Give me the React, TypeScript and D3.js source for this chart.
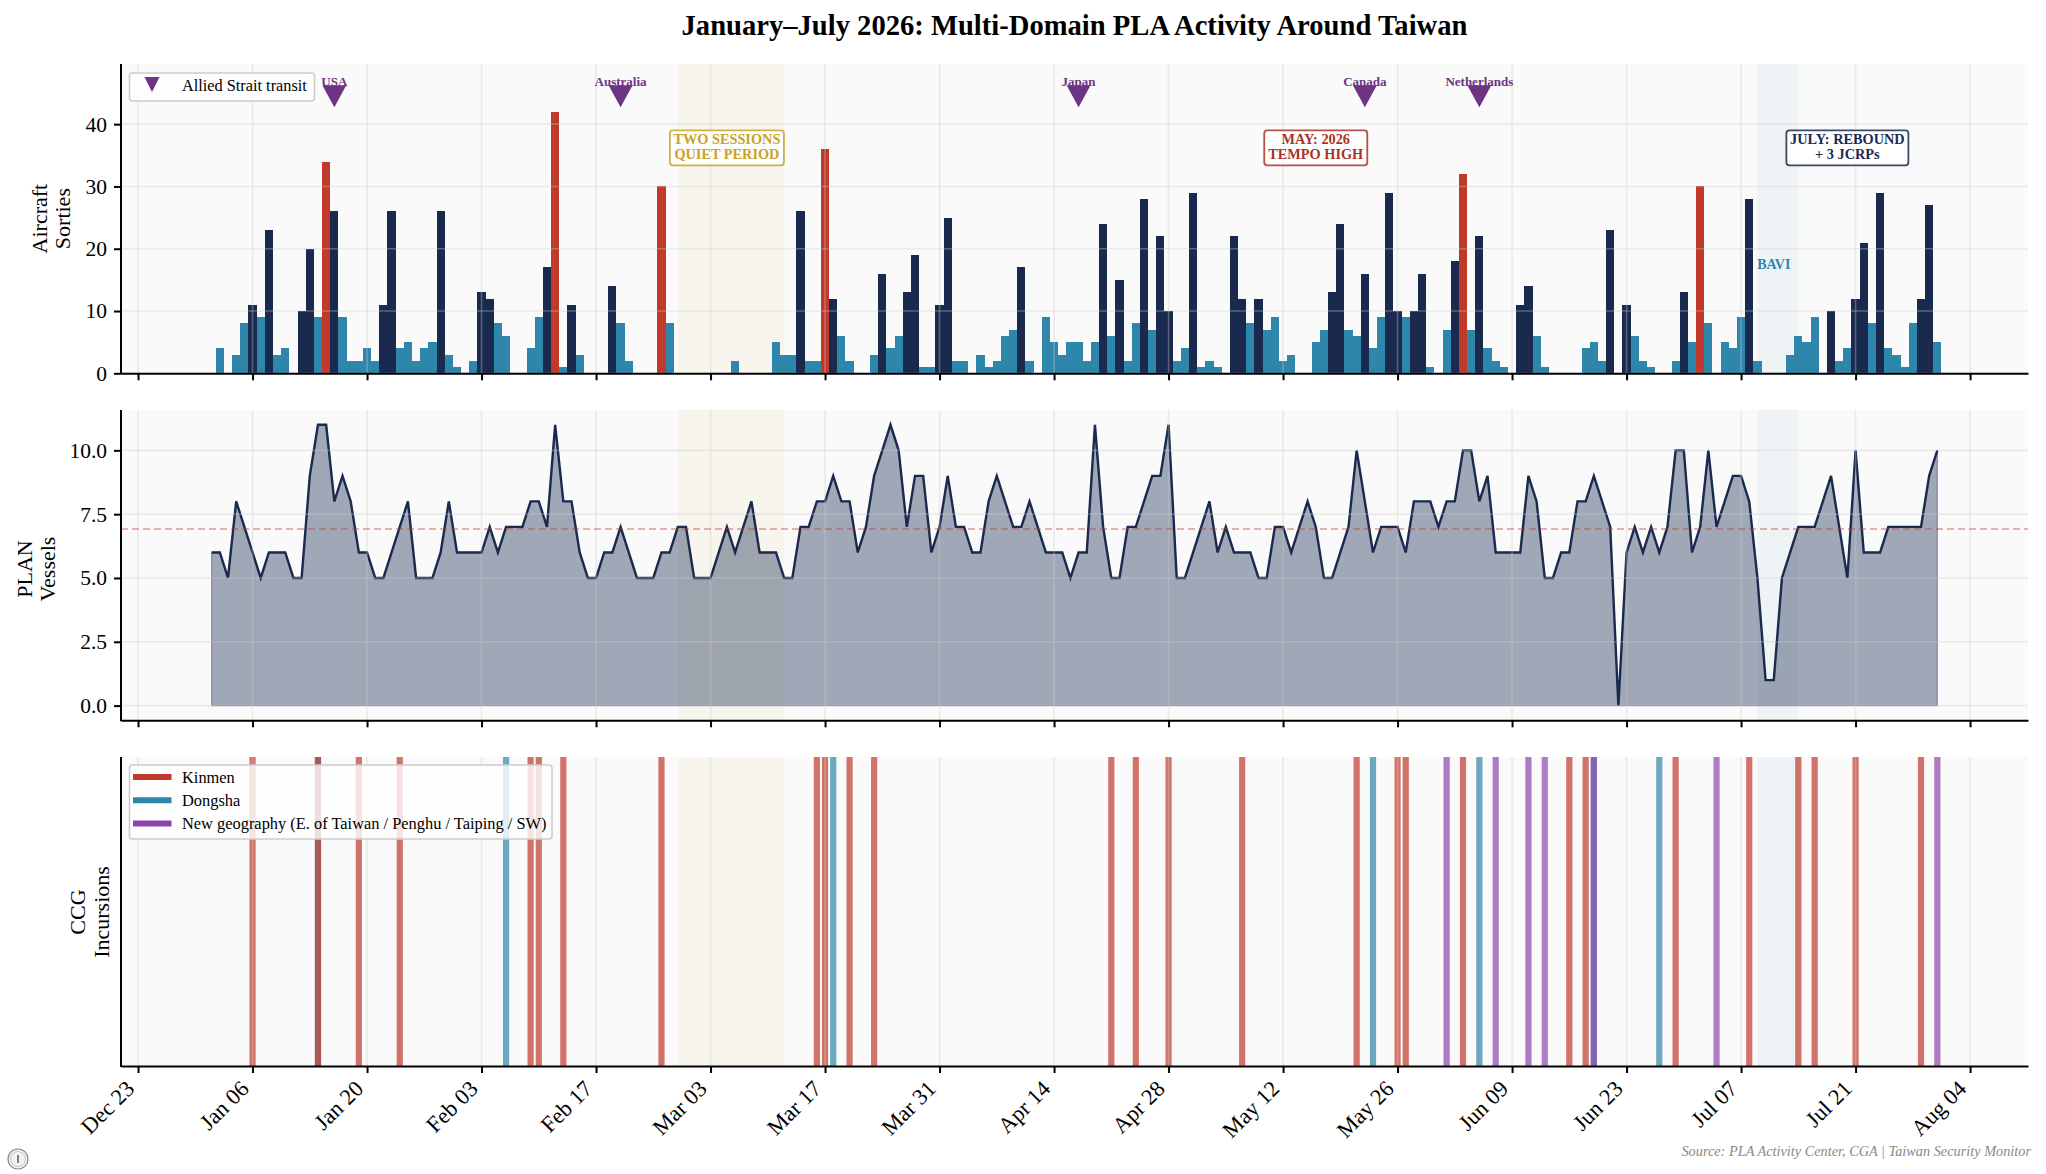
import React, { useEffect, useRef } from 'react';
import * as d3 from 'd3';

const WIDTH = 2046;
const HEIGHT = 1174;
const FONT = '"Liberation Serif", serif';

const NAVY = '#1a2a4f';
const TEAL = '#2e86ab';
const RED = '#c0392b';
const PURPLE = '#6c3483';
const GOLD = '#c9a227';
const NEW_GEO = '#8e44ad';

const MARGIN = { left: 121, right: 2028 };
const PANELS = {
  air: { top: 64, bottom: 373.3, yMax: 49.66 },
  plan: { top: 410, bottom: 720.3 },
  ccg: { top: 757, bottom: 1066 },
};

const FIRST_DAY = '2026-01-01';

// daily values from Jan 1 to Jul 31
const sorties = [
  0, 4, 0, 3, 8, 11, 9, 23, 3, 4, 0, 10, 20, 9, 34, 26, 9, 2, 2, 4, 2, 11, 26, 4, 5, 2, 4, 5, 26, 3, 1,
  0, 2, 13, 12, 8, 6, 0, 0, 4, 9, 17, 42, 1, 11, 3, 0, 0, 0, 14, 8, 2, 0, 0, 0, 30, 8, 0,
  0, 0, 0, 0, 0, 0, 2, 0, 0, 0, 0, 5, 3, 3, 26, 2, 2, 36, 12, 6, 2, 0, 0, 3, 16, 4, 6, 13, 19, 1, 1, 11,
  25, 2, 2, 0, 3, 1, 2, 6, 7, 17, 2, 0, 9, 5, 3, 5, 5, 2, 5, 24, 6, 15, 2, 8, 28, 7, 22, 10, 2,
  4, 29, 1, 2, 1, 0, 22, 12, 8, 12, 7, 9, 2, 3, 0, 0, 5, 7, 13, 24, 7, 6, 16, 4, 9, 29, 10, 9, 10, 16, 1, 0,
  7, 18, 32, 7, 22, 4, 2, 1, 0, 11, 14, 6, 1, 0, 0, 0, 0, 4, 5, 2, 23, 0, 11, 6, 2, 1, 0, 0, 2,
  13, 5, 30, 8, 0, 5, 4, 9, 28, 2, 0, 0, 0, 3, 6, 5, 9, 0, 10, 2, 4, 12, 21, 8, 29, 4, 3, 1, 8, 12, 27, 5,
];

const planVessels = [
  6, 6, 5, 8, 7, 6, 5, 6, 6, 6, 5, 5, 9, 11, 11, 8, 9, 8, 6, 6, 5, 5, 6, 7, 8, 5, 5, 5, 6, 8, 6,
  6, 6, 6, 7, 6, 7, 7, 7, 8, 8, 7, 11, 8, 8, 6, 5, 5, 6, 6, 7, 6, 5, 5, 5, 6, 6, 7,
  7, 5, 5, 5, 6, 7, 6, 7, 8, 6, 6, 6, 5, 5, 7, 7, 8, 8, 9, 8, 8, 6, 7, 9, 10, 11, 10, 7, 9, 9, 6, 7, 9,
  7, 7, 6, 6, 8, 9, 8, 7, 7, 8, 7, 6, 6, 6, 5, 6, 6, 11, 7, 5, 5, 7, 7, 8, 9, 9, 11, 5, 5,
  6, 7, 8, 6, 7, 6, 6, 6, 5, 5, 7, 7, 6, 7, 8, 7, 5, 5, 6, 7, 10, 8, 6, 7, 7, 7, 6, 8, 8, 8, 7,
  8, 8, 10, 10, 8, 9, 6, 6, 6, 6, 9, 8, 5, 5, 6, 6, 8, 8, 9, 8, 7, 0, 6, 7, 6, 7, 6, 7, 10, 10,
  6, 7, 10, 7, 8, 9, 9, 8, 5, 1, 1, 5, 6, 7, 7, 7, 8, 9, 7, 5, 10, 6, 6, 6, 7, 7, 7, 7, 7, 9, 10,
];
const planAverage = 6.92;

const airTicks = [0, 10, 20, 30, 40];
const planTicks = [0, 2.5, 5, 7.5, 10];

const kinmen = [
  '01-06', '01-14', '01-19', '01-24', '02-09', '02-10', '02-13', '02-25', '03-16', '03-17', '03-20', '03-23',
  '04-21', '04-24', '04-28', '05-07', '05-21', '05-26', '05-27', '06-03', '06-16', '06-18', '06-29', '07-08',
  '07-14', '07-16', '07-21', '07-29',
];
const dongsha = ['01-14', '02-06', '03-18', '05-23', '06-05', '06-19', '06-27'];
const newGeography = ['06-01', '06-07', '06-11', '06-13', '06-19', '07-04', '07-31'];

const transits = [
  { date: '01-16', name: 'USA' },
  { date: '02-20', name: 'Australia' },
  { date: '04-17', name: 'Japan' },
  { date: '05-22', name: 'Canada' },
  { date: '06-05', name: 'Netherlands' },
];

const parse = (md: string) => new Date(`2026-${md}T00:00:00Z`);

export default function App() {
  const ref = useRef<SVGSVGElement>(null);

  useEffect(() => {
    if (!ref.current) return;
    const svg = d3.select(ref.current);
    svg.selectAll('*').remove();
    svg.style('font-family', FONT);

    const x = d3
      .scaleUtc()
      .domain([new Date('2025-12-20T22:00:00Z'), new Date('2026-08-11T02:00:00Z')])
      .range([MARGIN.left, MARGIN.right]);
    const tickDates = d3.utcDay.range(new Date('2025-12-23T00:00:00Z'), new Date('2026-08-05T00:00:00Z'), 14);
    const days = d3.utcDay.range(new Date(`${FIRST_DAY}T00:00:00Z`), new Date('2026-08-01T00:00:00Z'));
    const dayWidth = x(days[1]) - x(days[0]);

    const yAir = d3.scaleLinear().domain([0, PANELS.air.yMax]).range([PANELS.air.bottom, PANELS.air.top]);
    const yPlan = d3.scaleLinear().domain([-0.575, 11.58]).range([PANELS.plan.bottom, PANELS.plan.top]);

    const panel = (p: { top: number; bottom: number }) => {
      const g = svg.append('g');
      g.append('rect')
        .attr('x', MARGIN.left)
        .attr('y', p.top)
        .attr('width', MARGIN.right - MARGIN.left)
        .attr('height', p.bottom - p.top)
        .attr('fill', '#fafafa');
      // quiet period + typhoon shading
      const spans = [
        { from: '02-27', to: '03-12', color: GOLD, op: 0.06 },
        { from: '07-09', to: '07-14', color: TEAL, op: 0.06 },
      ];
      spans.forEach((s) => {
        g.append('rect')
          .attr('x', x(parse(s.from)))
          .attr('y', p.top)
          .attr('width', x(parse(s.to)) - x(parse(s.from)))
          .attr('height', p.bottom - p.top)
          .attr('fill', s.color)
          .attr('opacity', s.op);
      });
      return g;
    };

    const grid = (g: any, p: { top: number; bottom: number }, yTicks: number[], y?: any) => {
      g.selectAll('.vgrid')
        .data(tickDates)
        .enter()
        .append('line')
        .attr('x1', (d: Date) => x(d))
        .attr('x2', (d: Date) => x(d))
        .attr('y1', p.top)
        .attr('y2', p.bottom)
        .attr('stroke', '#cccccc')
        .attr('stroke-opacity', 0.35)
        .attr('stroke-width', 1.6);
      if (y) {
        g.selectAll('.hgrid')
          .data(yTicks)
          .enter()
          .append('line')
          .attr('x1', MARGIN.left)
          .attr('x2', MARGIN.right)
          .attr('y1', (d: number) => y(d))
          .attr('y2', (d: number) => y(d))
          .attr('stroke', '#cccccc')
          .attr('stroke-opacity', 0.35)
          .attr('stroke-width', 1.6);
      }
    };

    const axes = (g: any, p: { top: number; bottom: number }, showLabels: boolean, y?: any, yTicks?: number[], fmt?: any) => {
      const xAxis = d3
        .axisBottom(x)
        .tickValues(tickDates)
        .tickSize(7)
        .tickSizeOuter(0)
        .tickFormat((d) => (showLabels ? d3.utcFormat('%b %d')(d as Date) : ''));
      const gx = g.append('g').attr('transform', `translate(0,${p.bottom})`).call(xAxis);
      gx.select('.domain').attr('stroke', '#000').attr('stroke-width', 2);
      gx.selectAll('.tick line').attr('stroke', '#000').attr('stroke-width', 2);
      gx.selectAll('.tick text')
        .attr('font-family', FONT)
        .attr('font-size', 22.5)
        .attr('fill', '#000')
        .attr('text-anchor', 'end')
        .attr('dy', 0)
        .attr('transform', 'translate(-10,17) rotate(-45)');

      if (y) {
        const yAxis = d3.axisLeft(y).tickValues(yTicks as number[]).tickSize(7).tickPadding(7).tickSizeOuter(0);
        if (fmt) yAxis.tickFormat(fmt);
        const gy = g.append('g').attr('transform', `translate(${MARGIN.left},0)`).call(yAxis);
        gy.select('.domain').remove();
        gy.selectAll('.tick line').attr('stroke', '#000').attr('stroke-width', 2);
        gy.selectAll('.tick text').attr('font-family', FONT).attr('font-size', 21.5).attr('fill', '#000');
      }
      g.append('line')
        .attr('x1', MARGIN.left)
        .attr('x2', MARGIN.left)
        .attr('y1', p.top)
        .attr('y2', p.bottom + 1)
        .attr('stroke', '#000')
        .attr('stroke-width', 2);
    };

    const yLabel = (lines: string[], xs: number[], cy: number) => {
      lines.forEach((t, i) => {
        svg.append('text')
          .attr('transform', `translate(${xs[i]},${cy}) rotate(-90)`)
          .attr('text-anchor', 'middle')
          .attr('font-size', 22)
          .attr('fill', '#000')
          .text(t);
      });
    };

    // title
    svg.append('text')
      .attr('x', (MARGIN.left + MARGIN.right) / 2)
      .attr('y', 34.5)
      .attr('text-anchor', 'middle')
      .attr('font-size', 28.6)
      .attr('font-weight', 700)
      .attr('fill', '#000')
      .text('January–July 2026: Multi-Domain PLA Activity Around Taiwan');

    // --- aircraft sorties ---
    const air = panel(PANELS.air);
    air.selectAll('.bar')
      .data(days)
      .enter()
      .append('rect')
      .attr('x', (d) => x(d) - dayWidth / 2)
      .attr('width', dayWidth)
      .attr('y', (_, i) => yAir(sorties[i]))
      .attr('height', (_, i) => yAir(0) - yAir(sorties[i]))
      .attr('shape-rendering', 'crispEdges')
      .attr('fill', (_, i) => (sorties[i] >= 30 ? RED : sorties[i] >= 10 ? NAVY : TEAL));
    grid(air, PANELS.air, airTicks, yAir);

    const tri = (w: number, h: number) => `M${-w / 2},${-h / 2}L${w / 2},${-h / 2}L0,${h / 2}Z`;

    const marks = air.selectAll('.transit').data(transits).enter().append('g');
    marks.append('path')
      .attr('transform', (d) => `translate(${x(parse(d.date))},${yAir(44.5)})`)
      .attr('d', tri(24, 22))
      .attr('fill', PURPLE);
    marks.append('text')
      .attr('x', (d) => x(parse(d.date)))
      .attr('y', yAir(46.2))
      .attr('text-anchor', 'middle')
      .attr('font-size', 13)
      .attr('font-weight', 700)
      .attr('fill', PURPLE)
      .text((d) => d.name);

    const callouts = [
      { date: '03-05', lines: ['TWO SESSIONS', 'QUIET PERIOD'], color: GOLD, w: 114 },
      { date: '05-16', lines: ['MAY: 2026', 'TEMPO HIGH'], color: '#a93226', w: 103 },
      { date: '07-20', lines: ['JULY: REBOUND', '+ 3 JCRPs'], color: NAVY, w: 122 },
    ];
    callouts.forEach((c) => {
      const cx = x(parse(c.date));
      const cy = yAir(36.2);
      air.append('rect')
        .attr('x', cx - c.w / 2)
        .attr('y', cy - 17.5)
        .attr('width', c.w)
        .attr('height', 35)
        .attr('rx', 3)
        .attr('fill', '#fff')
        .attr('fill-opacity', 0.85)
        .attr('stroke', c.color)
        .attr('stroke-opacity', 0.85)
        .attr('stroke-width', 1.8);
      c.lines.forEach((t, i) => {
        air.append('text')
          .attr('x', cx)
          .attr('y', cy - 3.5 + i * 15)
          .attr('text-anchor', 'middle')
          .attr('font-size', 14.3)
          .attr('font-weight', 700)
          .attr('fill', c.color)
          .text(t);
      });
    });
    air.append('text')
      .attr('x', x(parse('07-11')))
      .attr('y', yAir(16.8))
      .attr('text-anchor', 'middle')
      .attr('font-size', 14)
      .attr('font-weight', 700)
      .attr('fill', TEAL)
      .text('BAVI');

    // legend of the top panel
    const lg1 = air.append('g');
    lg1.append('rect')
      .attr('x', 129.5).attr('y', 73).attr('width', 185).attr('height', 28).attr('rx', 3)
      .attr('fill', '#fff').attr('fill-opacity', 0.8).attr('stroke', '#ccc').attr('stroke-width', 1.6);
    lg1.append('path').attr('transform', 'translate(152,84.5)').attr('d', tri(15, 15)).attr('fill', PURPLE);
    lg1.append('text').attr('x', 182).attr('y', 91).attr('font-size', 16.3).attr('fill', '#000').text('Allied Strait transit');

    axes(air, PANELS.air, false, yAir, airTicks);
    yLabel(['Aircraft', 'Sorties'], [47, 70], 218.6);

    // --- PLAN vessels ---
    const plan = panel(PANELS.plan);
    const area = d3
      .area<Date>()
      .x((d) => x(d))
      .y0(yPlan(0))
      .y1((_, i) => yPlan(planVessels[i]));
    const line = d3
      .line<Date>()
      .x((d) => x(d))
      .y((_, i) => yPlan(planVessels[i]));
    plan.append('path')
      .attr('d', area(days))
      .attr('fill', NAVY)
      .attr('fill-opacity', 0.4)
      .attr('stroke', NAVY)
      .attr('stroke-opacity', 0.4)
      .attr('stroke-width', 1.2);
    plan.append('path')
      .attr('d', line(days))
      .attr('fill', 'none')
      .attr('stroke', NAVY)
      .attr('stroke-width', 2.4)
      .attr('stroke-linejoin', 'miter');
    grid(plan, PANELS.plan, planTicks, yPlan);
    plan.append('line')
      .attr('x1', MARGIN.left)
      .attr('x2', MARGIN.right)
      .attr('y1', yPlan(planAverage))
      .attr('y2', yPlan(planAverage))
      .attr('stroke', RED)
      .attr('stroke-opacity', 0.5)
      .attr('stroke-width', 1.6)
      .attr('stroke-dasharray', '7,4');
    axes(plan, PANELS.plan, false, yPlan, planTicks, d3.format('.1f'));
    yLabel(['PLAN', 'Vessels'], [32, 55], 569);

    // --- CCG incursions ---
    const ccg = panel(PANELS.ccg);
    const events = (list: string[], color: string) => {
      ccg.append('g')
        .selectAll('line')
        .data(list)
        .enter()
        .append('line')
        .attr('x1', (d) => x(parse(d)))
        .attr('x2', (d) => x(parse(d)))
        .attr('y1', PANELS.ccg.top)
        .attr('y2', PANELS.ccg.bottom)
        .attr('stroke', color)
        .attr('stroke-opacity', 0.7)
        .attr('stroke-width', 6.2);
    };
    events(dongsha, TEAL);
    events(kinmen, RED);
    events(newGeography, NEW_GEO);
    grid(ccg, PANELS.ccg, []);

    const lg3 = ccg.append('g');
    lg3.append('rect')
      .attr('x', 129.5).attr('y', 765).attr('width', 422.5).attr('height', 74).attr('rx', 3)
      .attr('fill', '#fff').attr('fill-opacity', 0.8).attr('stroke', '#ccc').attr('stroke-width', 1.6);
    const legendItems = [
      { label: 'Kinmen', color: RED },
      { label: 'Dongsha', color: TEAL },
      { label: 'New geography (E. of Taiwan / Penghu / Taiping / SW)', color: NEW_GEO },
    ];
    legendItems.forEach((l, i) => {
      const ly = 777 + i * 23.2;
      lg3.append('line').attr('x1', 133).attr('x2', 171.5).attr('y1', ly).attr('y2', ly).attr('stroke', l.color).attr('stroke-width', 6);
      lg3.append('text').attr('x', 182).attr('y', ly + 5.5).attr('font-size', 16.4).attr('fill', '#000').text(l.label);
    });
    axes(ccg, PANELS.ccg, true);
    yLabel(['CCG', 'Incursions'], [85, 108.5], 912);

    // footer
    svg.append('text')
      .attr('x', 2031)
      .attr('y', 1156)
      .attr('text-anchor', 'end')
      .attr('font-size', 14.3)
      .attr('font-style', 'italic')
      .attr('fill', '#888')
      .text('Source: PLA Activity Center, CGA | Taiwan Security Monitor');

    const badge = svg.append('g').attr('transform', 'translate(18,1159)');
    badge.append('circle').attr('r', 10).attr('fill', '#f2f2f0').attr('stroke', '#888').attr('stroke-width', 1.2);
    badge.append('circle').attr('r', 7.5).attr('fill', 'none').attr('stroke', '#bbb').attr('stroke-width', 0.8);
    badge.append('line').attr('y1', -4).attr('y2', 4).attr('stroke', '#4a5a4a').attr('stroke-width', 1.4);
  }, []);

  return <svg ref={ref} width={WIDTH} height={HEIGHT} style={{ position: 'absolute', left: 0, top: 0, background: '#fff' }} />;
}
